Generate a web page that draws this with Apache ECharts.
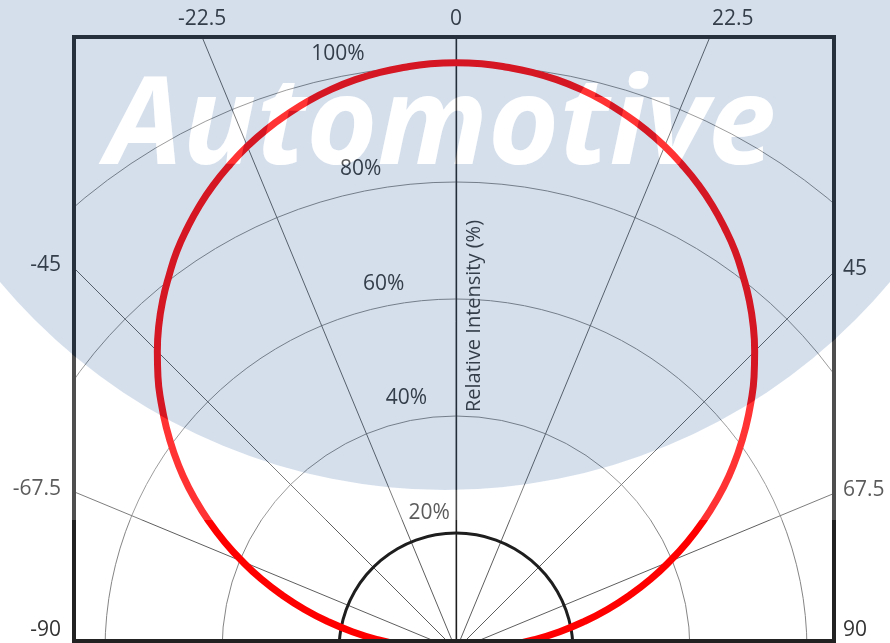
<!DOCTYPE html>
<html><head><meta charset="utf-8">
<script src="https://cdn.jsdelivr.net/npm/echarts@6/dist/echarts.min.js"></script>
<style>html,body{margin:0;padding:0;background:#fff}#c{width:890px;height:643px}</style>
</head><body><div id="c"></div>
<script>
// ---- data ----
const angles = [-90,-87.5,-85,-82.5,-80,-77.5,-75,-72.5,-70,-67.5,-65,-62.5,-60,-57.5,-55,-52.5,-50,-47.5,-45,-42.5,-40,-37.5,-35,-32.5,-30,-27.5,-25,-22.5,-20,-17.5,-15,-12.5,-10,-7.5,-5,-2.5,
  0,2.5,5,7.5,10,12.5,15,17.5,20,22.5,25,27.5,30,32.5,35,37.5,40,42.5,45,47.5,50,52.5,55,57.5,60,62.5,65,67.5,70,72.5,75,77.5,80,82.5,85,87.5,90];
const intensity = [0,4.5,9.0,13.5,18.0,22.4,26.8,31.1,35.4,39.5,43.6,47.6,51.5,55.3,58.9,62.4,65.8,69.1,72.2,75.2,78.0,80.6,83.2,85.5,87.7,89.7,91.5,93.2,94.7,96.0,97.2,98.2,99.0,99.6,100.0,100.3,
  100.4,100.3,100.0,99.6,99.0,98.2,97.2,96.0,94.7,93.2,91.5,89.7,87.7,85.5,83.2,80.6,78.0,75.2,72.2,69.1,65.8,62.4,58.9,55.3,51.5,47.6,43.6,39.5,35.4,31.1,26.8,22.4,18.0,13.5,9.0,4.5,0];
const refAngles = [-90,-80,-70,-60,-50,-40,-30,-20,-10,0,10,20,30,40,50,60,70,80,90];
const refLevel = [20,20,20,20,20,20,20,20,20,20,20,20,20,20,20,20,20,20,20];
const radialTicks = [20,40,60,80,100];
const angleTicks = [-90,-67.5,-45,-22.5,0,22.5,45,67.5,90];
const angleTickLabels = ['-90','-67.5','-45','-22.5','0','22.5','45','67.5','90'];
const radiusName = 'Relative Intensity (%)';
const watermark = 'Automotive';

// ---- layout ----
const W = 890, H = 643;
const FONT = '"Open Sans", "Noto Sans", sans-serif';
const CX = 456, CY = 650, RAD = 702;
const FRAME = {l: 74, r: 834, t: 37, b: 641};
const WM = {cx: 445, cy: -90, r: 580, bandBottom: 520};
const toAxis = a => (a < 0 ? a + 360 : a);

const option = {
  animation: false,
  backgroundColor: '#ffffff',
  polar: [{center: [CX, CY], radius: RAD}, {center: [CX, CY], radius: RAD}],
  angleAxis: [
    {polarIndex: 0, type: 'value', min: 0, max: 360, interval: 22.5, startAngle: 90, clockwise: true,
     axisLine: {show: false}, axisTick: {show: false}, axisLabel: {show: false},
     splitLine: {show: true, lineStyle: {color: '#5e5e5e', width: 1}}},
    {polarIndex: 1, type: 'value', min: 0, max: 360, startAngle: 101.25, clockwise: true, show: false}
  ],
  radiusAxis: [
    {polarIndex: 0, type: 'value', min: 0, max: 120, interval: 20,
     axisLine: {show: true, lineStyle: {color: '#1e1e1e', width: 1.3}},
     axisTick: {show: false}, axisLabel: {show: false},
     splitLine: {show: true, lineStyle: {color: ['#858585','#858585','#858585','#858585','#858585','#858585','rgba(0,0,0,0)'], width: 1}},
     name: radiusName, nameLocation: 'middle', nameGap: 8,
     nameTextStyle: {fontFamily: FONT, fontSize: 20, color: '#333', padding: [0, 34, 0, 0]}},
    {polarIndex: 1, type: 'value', min: 0, max: 120, interval: 20,
     axisLine: {show: false}, axisTick: {show: false}, splitLine: {show: false},
     axisLabel: {show: true, margin: 4, align: 'center', verticalAlign: 'bottom', lineHeight: 46,
       fontFamily: FONT, fontSize: 21, color: '#333',
       formatter: v => (radialTicks.indexOf(v) >= 0 ? v + '%' : '')}}
  ],
  series: [
    {type: 'line', coordinateSystem: 'polar', polarIndex: 0, smooth: true, showSymbol: false, z: 3,
     lineStyle: {color: '#ff0000', width: 7},
     data: angles.map((a, i) => [intensity[i], toAxis(a)])},
    {type: 'line', coordinateSystem: 'polar', polarIndex: 0, smooth: true, showSymbol: false, z: 2,
     lineStyle: {color: '#1e1e1e', width: 3},
     data: refAngles.map((a, i) => [refLevel[i], toAxis(a)])}
  ]
};

const chart = echarts.init(document.getElementById('c'), null, {renderer: 'canvas', width: W, height: H});
chart.setOption(option);

// angle labels where each spoke meets the frame
const c0 = chart.convertToPixel({seriesIndex: 0}, [0, 0]);
const labelEls = [];
angleTicks.forEach((a, i) => {
  const p = chart.convertToPixel({seriesIndex: 0}, [100, toAxis(a)]);
  let dx = p[0] - c0[0], dy = p[1] - c0[1];
  const len = Math.hypot(dx, dy); dx /= len; dy /= len;
  let best = Infinity, side = '';
  if (dx < -1e-6) { const t = (FRAME.l - c0[0]) / dx; if (t < best) { best = t; side = 'l'; } }
  if (dx > 1e-6) { const t = (FRAME.r - c0[0]) / dx; if (t < best) { best = t; side = 'r'; } }
  if (dy < -1e-6) { const t = (FRAME.t - c0[1]) / dy; if (t < best) { best = t; side = 't'; } }
  const hx = c0[0] + dx * best, hy = c0[1] + dy * best;
  let x, y, al, va;
  if (side === 't') { x = a > 0 ? hx + 2 : hx; y = FRAME.t - 7; al = a > 0 ? 'left' : 'center'; va = 'bottom'; }
  else if (side === 'l') { x = FRAME.l - 13; y = Math.min(hy - 3, 630); al = 'right'; va = 'middle'; }
  else { x = FRAME.r + 9; y = Math.min(hy - 3, 630); al = 'left'; va = 'middle'; }
  labelEls.push({type: 'text', x: x, y: y, z: 70, silent: true,
    style: {text: angleTickLabels[i], font: '21px ' + FONT, fill: '#333',
      align: al, verticalAlign: va, textAlign: al, textVerticalAlign: va}});
});

// light band: area above bandBottom that lies outside the watermark disc
const bandPts = [[0, WM.bandBottom], [W, WM.bandBottom]];
{
  const phiR = Math.acos((W - WM.cx) / WM.r), phiL = Math.acos((0 - WM.cx) / WM.r);
  const n = 80;
  for (let k = 0; k <= n; k++) {
    const phi = phiR + (phiL - phiR) * k / n;
    bandPts.push([WM.cx + WM.r * Math.cos(phi), WM.cy + WM.r * Math.sin(phi)]);
  }
}

const wmFont = 'italic bold 122px ' + FONT;
const wmText = (z, fill) => ({type: 'text', zlevel: 1, z: z, silent: true, x: 441, y: 129,
  style: {text: watermark, font: wmFont, fill: fill,
    align: 'center', verticalAlign: 'middle', textAlign: 'center', textVerticalAlign: 'middle'}});

chart.setOption({
  graphic: [
    {type: 'rect', z: 50, silent: true, shape: {x: 0, y: 0, width: FRAME.l, height: H}, style: {fill: '#fff'}},
    {type: 'rect', z: 50, silent: true, shape: {x: FRAME.r, y: 0, width: W - FRAME.r, height: H}, style: {fill: '#fff'}},
    {type: 'rect', z: 50, silent: true, shape: {x: 0, y: 0, width: W, height: FRAME.t}, style: {fill: '#fff'}},
    {type: 'rect', z: 50, silent: true, shape: {x: 0, y: FRAME.b, width: W, height: H - FRAME.b}, style: {fill: '#fff'}},
    {type: 'rect', z: 60, silent: true, shape: {x: FRAME.l, y: FRAME.t, width: FRAME.r - FRAME.l, height: FRAME.b - FRAME.t},
     style: {fill: 'none', stroke: '#222', lineWidth: 4}},
    ...labelEls,
    // watermark layer (own canvas): text knocked out of the tinted disc, light band around it
    wmText(1, '#ffffff'),
    {type: 'circle', zlevel: 1, z: 2, silent: true, shape: {cx: WM.cx, cy: WM.cy, r: WM.r},
     style: {fill: 'rgba(58,106,163,0.21)', blend: 'source-out'}},
    wmText(3, 'rgba(255,255,255,0.2)'),
    {type: 'polygon', zlevel: 1, z: 4, silent: true, shape: {points: bandPts}, style: {fill: 'rgba(255,255,255,0.2)'}}
  ]
});
</script>
</body></html>
